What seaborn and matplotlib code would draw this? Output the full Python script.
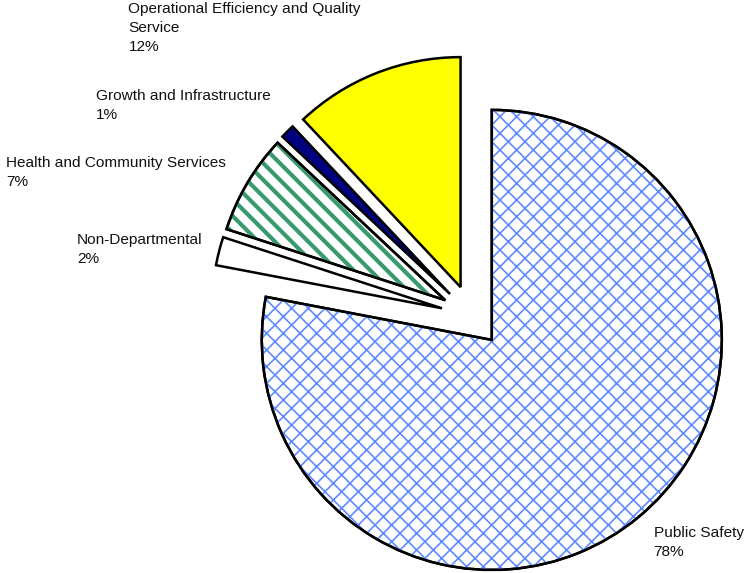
import matplotlib
matplotlib.use("Agg")
import matplotlib.pyplot as plt
import seaborn as sns
from matplotlib.patches import Wedge

# data, clockwise from 12 o'clock
categories = ["Public Safety", "Non-Departmental", "Health and Community Services",
              "Growth and Infrastructure", "Operational Efficiency and Quality\nService"]
shares = [78, 2, 7, 1, 12]

# styling
face_colors = ["white", "white", "white", "#000080", "#FFFF00"]
hatches = ["xx", None, "\\\\", None, None]
hatch_colors = ["#5F8BFF", None, "#3A9A6E", None, None]
hatch_widths = [1.2, None, 3.0, None, None]
# label anchors (axes fraction, top-left of text block)
label_pos = [(0.875, 0.082), (0.103, 0.593), (0.008, 0.728),
             (0.128, 0.844), (0.172, 0.997)]

sns.set_theme(style="white")
plt.rcParams["font.family"] = ["Liberation Sans", "DejaVu Sans"]

fig = plt.figure(figsize=(7.47, 5.73), dpi=100)
ax = fig.add_axes([0, 0, 1, 1])

wedges, _ = ax.pie(shares, startangle=90, counterclock=False,
                   explode=[0.135] * len(shares), radius=1.0,
                   colors=face_colors,
                   wedgeprops=dict(edgecolor="black", linewidth=1.8))

for w, h, hc, hw in zip(wedges, hatches, hatch_colors, hatch_widths):
    if h is None:
        continue
    plt.rcParams["hatch.linewidth"] = hw
    hp = Wedge(w.center, w.r, w.theta1, w.theta2, facecolor="none",
               edgecolor=hc, hatch=h, linewidth=0, zorder=w.get_zorder() + 0.1)
    if hasattr(hp, "set_hatch_linewidth"):
        hp.set_hatch_linewidth(hw)
    ax.add_patch(hp)
    outline = Wedge(w.center, w.r, w.theta1, w.theta2, fill=False,
                    edgecolor="black", linewidth=1.8, zorder=w.get_zorder() + 0.2)
    ax.add_patch(outline)

for name, pct, (x, y) in zip(categories, shares, label_pos):
    ax.text(x, y, f"{name}\n{pct}%", transform=ax.transAxes, ha="left", va="top",
            fontsize=11.1, linespacing=1.45, color="#111111")

# scale: 230 px per unit radius, pie center at (472, 316) px from top-left
ax.set_aspect("auto")
ax.set_xlim(-472 / 230, (747 - 472) / 230)
ax.set_ylim(-(573 - 316) / 230, 316 / 230)
ax.axis("off")

fig.savefig("out.png", dpi=100, facecolor="white")
